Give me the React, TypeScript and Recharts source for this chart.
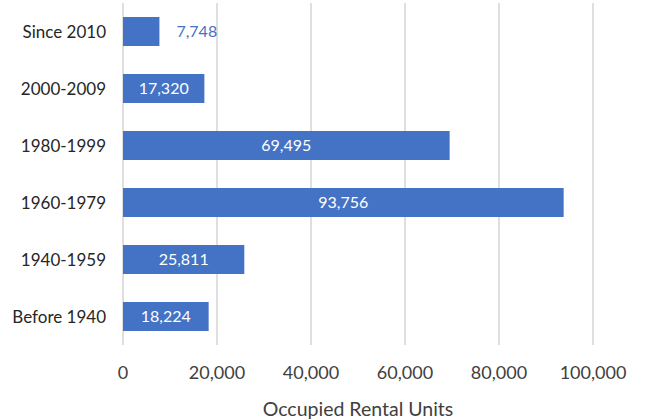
import { BarChart, Bar, XAxis, YAxis, CartesianGrid, LabelList } from 'recharts';

const periods = ['Since 2010', '2000-2009', '1980-1999', '1960-1979', '1940-1959', 'Before 1940'];
const units = [7748, 17320, 69495, 93756, 25811, 18224];
const xTicks = [0, 20000, 40000, 60000, 80000, 100000];

const data = periods.map((period, i) => ({ period, units: units[i] }));

const BLUE = '#4472C4';
const FONT = 'Lato, "Open Sans", sans-serif';

const fmt = (v: number) => v.toLocaleString('en-US');

function BarLabel(props: any) {
  const { x, y, width, height, value } = props;
  const cy = y + height / 2;
  if (width < 55) {
    return (
      <text x={x + width + 17} y={cy} dy="0.35em" fill={BLUE} fontSize={16} fontFamily={FONT}>
        {fmt(value)}
      </text>
    );
  }
  return (
    <text x={x + width / 2} y={cy} dy="0.35em" textAnchor="middle" fill="#fff" fontSize={16} fontFamily={FONT}>
      {fmt(value)}
    </text>
  );
}

export default function App() {
  return (
    <div style={{ position: 'absolute', left: 0, top: 0, background: '#fff' }}>
      <BarChart
        width={646}
        height={419}
        data={data}
        layout="vertical"
        margin={{ top: 3, right: 53, bottom: 0, left: 0 }}
      >
        <CartesianGrid horizontal={false} stroke="#d4d4d4" strokeWidth={1.5} />
        <XAxis
          type="number"
          domain={[0, 100000]}
          ticks={xTicks}
          tickFormatter={fmt}
          axisLine={false}
          tickLine={false}
          tickMargin={15}
          height={74}
          tick={{ fill: '#404040', fontSize: 18, fontFamily: FONT }}
          label={{
            value: 'Occupied Rental Units',
            position: 'insideBottom',
            offset: 3,
            fill: '#404040',
            fontSize: 19.5,
            fontFamily: FONT,
          }}
        />
        <YAxis
          type="category"
          dataKey="period"
          width={123}
          axisLine={false}
          tickLine={false}
          tickMargin={11}
          tick={{ fill: '#262626', fontSize: 17, fontFamily: FONT }}
        />
        <Bar dataKey="units" fill={BLUE} barSize={29} isAnimationActive={false}>
          <LabelList dataKey="units" content={BarLabel} />
        </Bar>
      </BarChart>
    </div>
  );
}
